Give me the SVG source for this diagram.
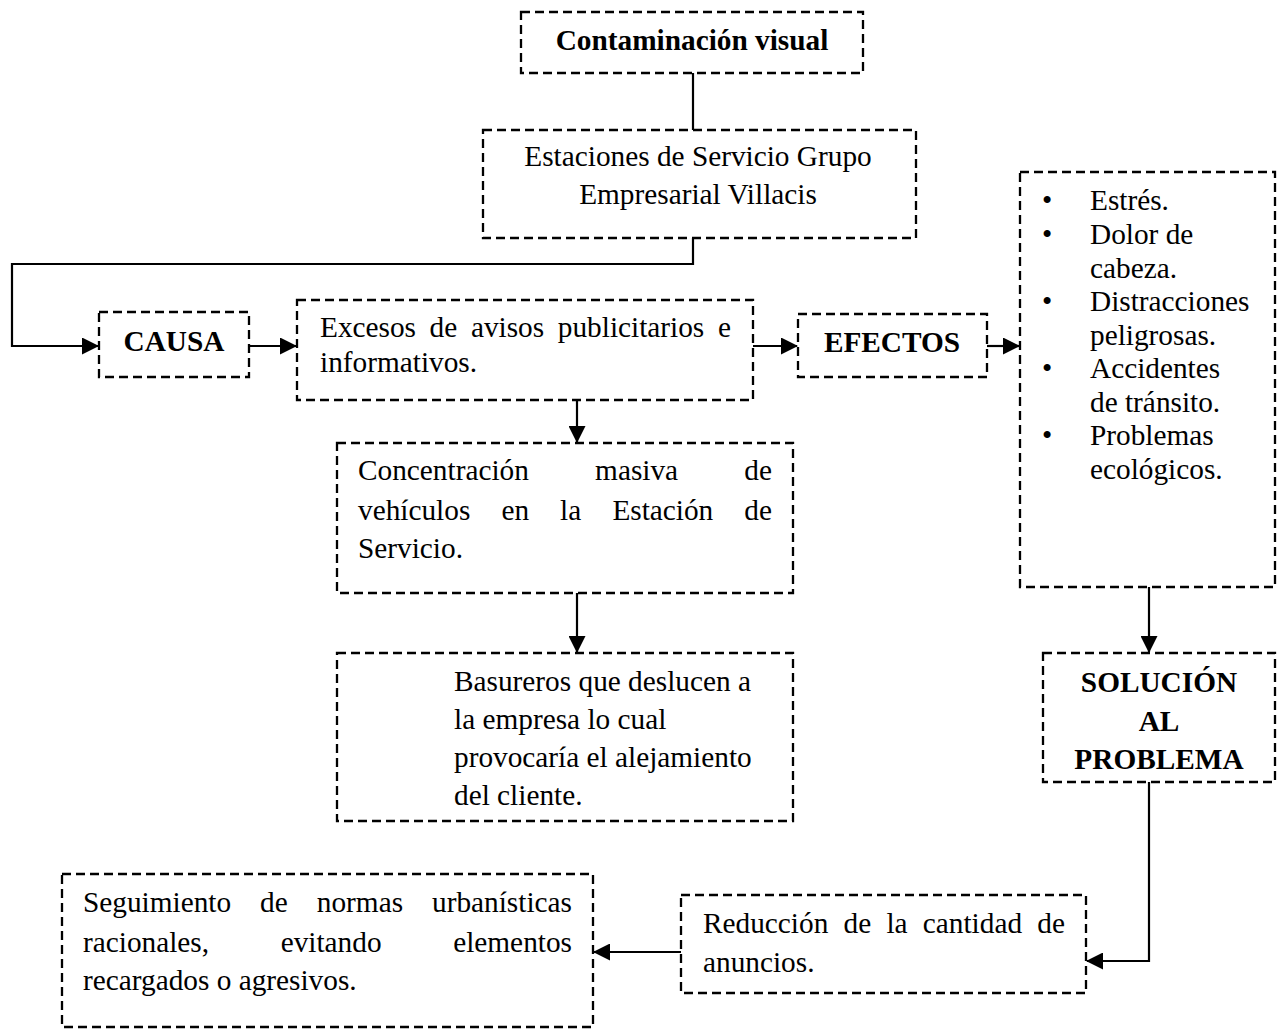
<svg xmlns="http://www.w3.org/2000/svg" width="1286" height="1030" viewBox="0 0 1286 1030">
<style>
.box{fill:none;stroke:#000;stroke-width:2.3;stroke-dasharray:9 5}
.t{font-family:"Liberation Serif","Times New Roman",serif;font-size:29.3px;fill:#000}
.b{font-weight:bold}
.c{text-anchor:middle}
.ln{fill:none;stroke:#000;stroke-width:2.2}
</style>
<defs>
<marker id="ah" markerUnits="userSpaceOnUse" markerWidth="17" markerHeight="17" refX="16" refY="8.5" orient="auto">
<path d="M0,0 L17,8.5 L0,17 z" fill="#000"/>
</marker>
</defs>
<rect width="1286" height="1030" fill="#fff"/>
<g id="connectors">
<path class="ln" d="M693,73 V130"/>
<path class="ln" d="M693,238 V264 H12 V346 H98" marker-end="url(#ah)"/>
<path class="ln" d="M249,346 H296" marker-end="url(#ah)"/>
<path class="ln" d="M753,346 H797" marker-end="url(#ah)"/>
<path class="ln" d="M987,346 H1019" marker-end="url(#ah)"/>
<path class="ln" d="M577,400 V442" marker-end="url(#ah)"/>
<path class="ln" d="M577,593 V652" marker-end="url(#ah)"/>
<path class="ln" d="M1149,587 V652" marker-end="url(#ah)"/>
<path class="ln" d="M1149,782 V961 H1087" marker-end="url(#ah)"/>
<path class="ln" d="M681,952 H594" marker-end="url(#ah)"/>
</g>
<g id="n-contaminacion">
<rect class="box" x="521" y="12" width="342" height="61"/>
<text class="t b c" x="692" y="50">Contaminación visual</text>
</g>
<g id="n-estaciones">
<rect class="box" x="483" y="130" width="433" height="108"/>
<text class="t c" x="698" y="166">Estaciones de Servicio Grupo</text>
<text class="t c" x="698" y="204">Empresarial Villacis</text>
</g>
<g id="n-causa">
<rect class="box" x="99" y="312" width="150" height="65"/>
<text class="t b c" x="174" y="351">CAUSA</text>
</g>
<g id="n-excesos">
<rect class="box" x="297" y="300" width="456" height="100"/>
<text class="t" y="337"><tspan x="320">Excesos</tspan><tspan x="429.6">de</tspan><tspan x="470.9">avisos</tspan><tspan x="557.8">publicitarios</tspan><tspan x="718">e</tspan></text>
<text class="t" x="320" y="372">informativos.</text>
</g>
<g id="n-efectos">
<rect class="box" x="798" y="314" width="189" height="63"/>
<text class="t b c" x="892" y="352">EFECTOS</text>
</g>
<g id="n-lista">
<rect class="box" x="1020" y="172" width="255" height="415"/>
<text class="t" x="1042" y="210">•</text>
<text class="t" x="1042" y="244">•</text>
<text class="t" x="1042" y="311">•</text>
<text class="t" x="1042" y="378">•</text>
<text class="t" x="1042" y="445">•</text>
<text class="t" x="1090" y="210">Estrés.</text>
<text class="t" x="1090" y="244">Dolor de</text>
<text class="t" x="1090" y="277.5">cabeza.</text>
<text class="t" x="1090" y="311">Distracciones</text>
<text class="t" x="1090" y="344.5">peligrosas.</text>
<text class="t" x="1090" y="378">Accidentes</text>
<text class="t" x="1090" y="411.5">de tránsito.</text>
<text class="t" x="1090" y="445">Problemas</text>
<text class="t" x="1090" y="478.5">ecológicos.</text>
</g>
<g id="n-concentracion">
<rect class="box" x="337" y="443" width="456" height="150"/>
<text class="t" y="480"><tspan x="358">Concentración</tspan><tspan x="595.1">masiva</tspan><tspan x="744.3">de</tspan></text>
<text class="t" y="520"><tspan x="358">vehículos</tspan><tspan x="501.4">en</tspan><tspan x="560.1">la</tspan><tspan x="612.4">Estación</tspan><tspan x="744.3">de</tspan></text>
<text class="t" x="358" y="558">Servicio.</text>
</g>
<g id="n-basureros">
<rect class="box" x="337" y="653" width="456" height="168"/>
<text class="t" x="454" y="691">Basureros que deslucen a</text>
<text class="t" x="454" y="729">la empresa lo cual</text>
<text class="t" x="454" y="767">provocaría el alejamiento</text>
<text class="t" x="454" y="805">del cliente.</text>
</g>
<g id="n-solucion">
<rect class="box" x="1043" y="653" width="232" height="129"/>
<text class="t b c" x="1159" y="692">SOLUCIÓN</text>
<text class="t b c" x="1159" y="731">AL</text>
<text class="t b c" x="1159" y="769">PROBLEMA</text>
</g>
<g id="n-reduccion">
<rect class="box" x="681" y="895" width="405" height="98"/>
<text class="t" y="933"><tspan x="703">Reducción</tspan><tspan x="843.5">de</tspan><tspan x="886.4">la</tspan><tspan x="922.8">cantidad</tspan><tspan x="1037.3">de</tspan></text>
<text class="t" x="703" y="972">anuncios.</text>
</g>
<g id="n-seguimiento">
<rect class="box" x="62" y="874" width="531" height="153"/>
<text class="t" y="912"><tspan x="83">Seguimiento</tspan><tspan x="260.1">de</tspan><tspan x="316.8">normas</tspan><tspan x="432">urbanísticas</tspan></text>
<text class="t" y="952"><tspan x="83">racionales,</tspan><tspan x="280.7">evitando</tspan><tspan x="453.2">elementos</tspan></text>
<text class="t" x="83" y="990">recargados o agresivos.</text>
</g>
</svg>
